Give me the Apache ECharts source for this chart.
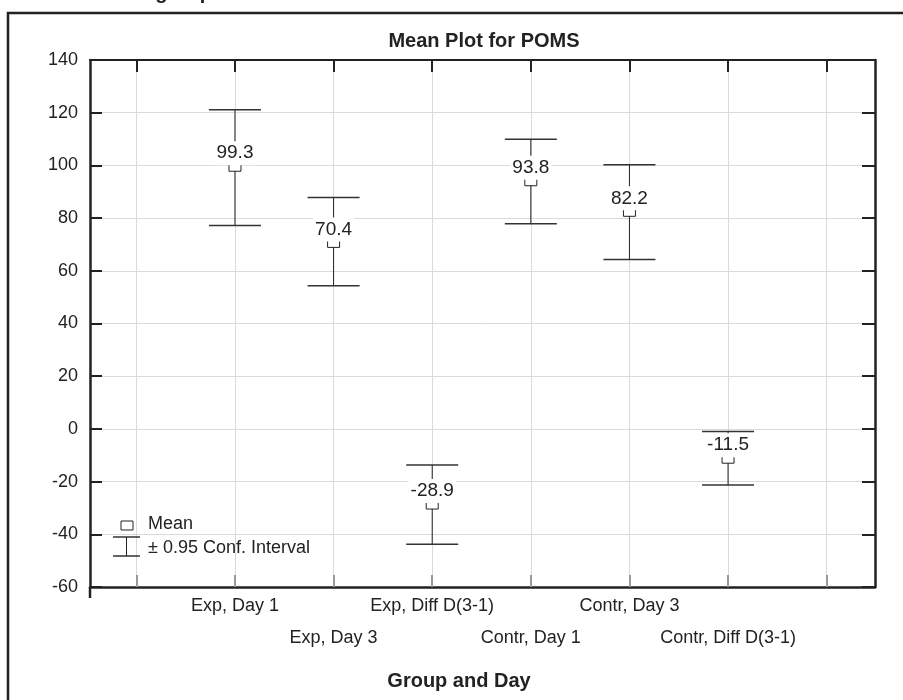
<!DOCTYPE html>
<html><head><meta charset="utf-8">
<script src="https://cdn.jsdelivr.net/npm/echarts@6/dist/echarts.min.js"></script>
<style>html,body{margin:0;padding:0;background:#fff}#c{width:903px;height:700px}</style>
</head><body><div id="c"></div>
<script>
// ---- data ----
const categories = ['Exp, Day 1', 'Exp, Day 3', 'Exp, Diff D(3-1)', 'Contr, Day 1', 'Contr, Day 3', 'Contr, Diff D(3-1)'];
const means = [99.3, 70.4, -28.9, 93.8, 82.2, -11.5];
const lowerCI = [77.2, 54.3, -43.8, 77.9, 64.3, -21.3];
const upperCI = [121.1, 87.8, -13.7, 109.9, 100.2, -1.0];
const xSlots = [0, 1, 2, 3, 4, 5, 6, 7];          // tick slots on the x axis
const catSlots = [1, 2, 3, 4, 5, 6];              // slots holding categories
const rowOneSlots = [1, 3, 5];                    // labels on the first row
const rowTwoSlots = [2, 4, 6];                    // labels on the second row
const yTickValues = [-60, -40, -20, 0, 20, 40, 60, 80, 100, 120, 140];

const FONT = '"Liberation Sans", Arial, sans-serif';
const DARK = '#222';

const chart = echarts.init(document.getElementById('c'), null, {renderer: 'canvas'});

const seriesData = categories.map((c, i) => [catSlots[i], means[i], lowerCI[i], upperCI[i]]);

function catName(v) {
  const i = Math.round(v) - 1;
  return (i >= 0 && i < categories.length) ? categories[i] : '';
}

function renderItem(params, api) {
  const x = api.value(0), m = api.value(1), lo = api.value(2), hi = api.value(3);
  const pT = api.coord([x, hi]);
  const pB = api.coord([x, lo]);
  const pM = api.coord([x, m]);
  const half = 26;
  return {
    type: 'group',
    children: [
      {type: 'line', shape: {x1: pT[0], y1: pT[1], x2: pB[0], y2: pB[1]}, style: {stroke: DARK, lineWidth: 1}},
      {type: 'line', shape: {x1: pT[0] - half, y1: pT[1], x2: pT[0] + half, y2: pT[1]}, style: {stroke: '#333', lineWidth: 1.5}},
      {type: 'line', shape: {x1: pB[0] - half, y1: pB[1], x2: pB[0] + half, y2: pB[1]}, style: {stroke: '#333', lineWidth: 1.5}},
      {type: 'rect', shape: {x: pM[0] - 6, y: pM[1] - 4, width: 12, height: 8}, style: {fill: '#fff', stroke: DARK, lineWidth: 1}},
      {type: 'text', style: {
        text: String(m.toFixed(1)), x: pM[0], y: pM[1] - 14,
        align: 'center', verticalAlign: 'middle',
        font: '19px ' + FONT, fill: DARK,
        backgroundColor: '#fff', padding: [1, 2, 4, 2]
      }}
    ]
  };
}

const labelCommon = {fontFamily: FONT, fontSize: 18, color: DARK, hideOverlap: false,
  showMinLabel: true, showMaxLabel: true, formatter: catName};

const option = {
  backgroundColor: '#fff',
  animation: false,
  grid: {left: 90, right: 28, top: 60, bottom: 113, containLabel: false},
  xAxis: [
    {
      type: 'value', position: 'bottom', min: -0.47, max: 7.49,
      axisLine: {show: true, onZero: false, lineStyle: {color: DARK, width: 2.5}},
      axisTick: {show: true, inside: true, length: 12, customValues: xSlots, lineStyle: {color: '#999', width: 2}},
      axisLabel: Object.assign({show: true, customValues: rowOneSlots, margin: 10}, labelCommon),
      splitLine: {show: true, lineStyle: {color: '#dadada', width: 1}}
    },
    {
      type: 'value', position: 'top', min: -0.47, max: 7.49,
      axisLine: {show: true, onZero: false, lineStyle: {color: DARK, width: 2}},
      axisTick: {show: true, inside: true, length: 12, customValues: xSlots, lineStyle: {color: DARK, width: 2}},
      axisLabel: {show: false},
      splitLine: {show: false}
    },
    {
      type: 'value', position: 'bottom', offset: 0, min: -0.47, max: 7.49,
      axisLine: {show: false, onZero: false},
      axisTick: {show: false},
      axisLabel: Object.assign({show: true, customValues: rowTwoSlots, margin: 42}, labelCommon),
      splitLine: {show: false}
    }
  ],
  yAxis: [
    {
      type: 'value', position: 'left', min: -60, max: 140, interval: 20,
      axisLine: {show: true, onZero: false, lineStyle: {color: DARK, width: 2.5}},
      axisTick: {show: true, inside: true, length: 12, lineStyle: {color: DARK, width: 2}},
      axisLabel: {show: true, margin: 12, fontFamily: FONT, fontSize: 18, color: DARK,
        customValues: yTickValues},
      splitLine: {show: true, lineStyle: {color: '#dadada', width: 1}}
    },
    {
      type: 'value', position: 'right', min: -60, max: 140, interval: 20,
      axisLine: {show: true, onZero: false, lineStyle: {color: DARK, width: 2.5}},
      axisTick: {show: true, inside: true, length: 13, lineStyle: {color: DARK, width: 2}},
      axisLabel: {show: false},
      splitLine: {show: false}
    }
  ],
  series: [{
    type: 'custom',
    xAxisIndex: 0, yAxisIndex: 0,
    renderItem: renderItem,
    data: seriesData,
    clip: false,
    z: 10
  }],
  graphic: [
    // outer frame (extends beyond the picture right/bottom)
    {type: 'rect', shape: {x: 8, y: 13, width: 1000, height: 1000},
      style: {fill: 'none', stroke: DARK, lineWidth: 2.5}, silent: true, z: 1},
    // cut-off heading at the very top
    {type: 'text', x: 212, y: 3,
      style: {text: 'Experimental and control group', font: 'bold 20px ' + FONT, fill: DARK, align: 'right', verticalAlign: 'bottom'}},
    // chart title
    {type: 'text', x: 484, y: 41,
      style: {text: 'Mean Plot for POMS', font: 'bold 20px ' + FONT, fill: DARK, align: 'center', verticalAlign: 'middle'}},
    // x axis name
    {type: 'text', x: 459, y: 681,
      style: {text: 'Group and Day', font: 'bold 20px ' + FONT, fill: DARK, align: 'center', verticalAlign: 'middle'}},
    // left axis extension below plot
    {type: 'line', shape: {x1: 90, y1: 587, x2: 90, y2: 598}, style: {stroke: DARK, lineWidth: 2.5}},
    // legend: mean marker
    {type: 'rect', shape: {x: 121, y: 521, width: 12, height: 9}, style: {fill: '#fff', stroke: DARK, lineWidth: 1}, z: 20},
    {type: 'text', x: 148, y: 524,
      style: {text: 'Mean', font: '18px ' + FONT, fill: DARK, verticalAlign: 'middle'}, z: 20},
    // legend: CI whisker
    {type: 'line', shape: {x1: 113, y1: 537, x2: 140, y2: 537}, style: {stroke: '#333', lineWidth: 1.5}, z: 20},
    {type: 'line', shape: {x1: 113, y1: 556, x2: 140, y2: 556}, style: {stroke: '#333', lineWidth: 1.5}, z: 20},
    {type: 'line', shape: {x1: 126.5, y1: 537, x2: 126.5, y2: 556}, style: {stroke: DARK, lineWidth: 1}, z: 20},
    {type: 'text', x: 148, y: 548,
      style: {text: '\u00b1 0.95 Conf. Interval', font: '18px ' + FONT, fill: DARK, verticalAlign: 'middle'}, z: 20}
  ]
};
chart.setOption(option);
</script>
</body></html>
